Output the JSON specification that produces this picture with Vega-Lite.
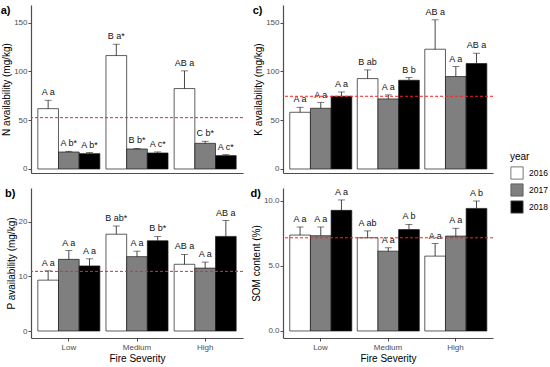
{
  "$schema": "https://vega.github.io/schema/vega-lite/v6.json",
  "padding": {"left": 0, "top": 5, "right": 2, "bottom": 2},
  "background": "white",
  "datasets": {
    "N": [
      {"severity": "Low", "year": "2016", "mean": 61.8, "upper": 70.4, "label": "A a"},
      {"severity": "Low", "year": "2017", "mean": 17.4, "upper": 18.1, "label": "A b*"},
      {"severity": "Low", "year": "2018", "mean": 15.7, "upper": 16.8, "label": "A b*"},
      {"severity": "Medium", "year": "2016", "mean": 116.2, "upper": 127.8, "label": "B a*"},
      {"severity": "Medium", "year": "2017", "mean": 20.5, "upper": 21.0, "label": "B b*"},
      {"severity": "Medium", "year": "2018", "mean": 16.4, "upper": 17.5, "label": "A c*"},
      {"severity": "High", "year": "2016", "mean": 82.4, "upper": 100.5, "label": "AB a"},
      {"severity": "High", "year": "2017", "mean": 26.3, "upper": 28.4, "label": "C b*"},
      {"severity": "High", "year": "2018", "mean": 13.7, "upper": 14.7, "label": "A c*"}
    ],
    "P": [
      {"severity": "Low", "year": "2016", "mean": 9.3, "upper": 11.0, "label": "A a"},
      {"severity": "Low", "year": "2017", "mean": 13.1, "upper": 14.7, "label": "A a"},
      {"severity": "Low", "year": "2018", "mean": 11.9, "upper": 13.2, "label": "A a"},
      {"severity": "Medium", "year": "2016", "mean": 17.7, "upper": 19.2, "label": "B ab*"},
      {"severity": "Medium", "year": "2017", "mean": 13.6, "upper": 14.6, "label": "A a"},
      {"severity": "Medium", "year": "2018", "mean": 16.5, "upper": 17.3, "label": "B b*"},
      {"severity": "High", "year": "2016", "mean": 12.2, "upper": 14.0, "label": "AB a"},
      {"severity": "High", "year": "2017", "mean": 11.5, "upper": 12.6, "label": "A a"},
      {"severity": "High", "year": "2018", "mean": 17.3, "upper": 20.2, "label": "AB a"}
    ],
    "K": [
      {"severity": "Low", "year": "2016", "mean": 58.1, "upper": 63.2, "label": "A a"},
      {"severity": "Low", "year": "2017", "mean": 62.2, "upper": 68.0, "label": "A a"},
      {"severity": "Low", "year": "2018", "mean": 74.5, "upper": 78.9, "label": "A a"},
      {"severity": "Medium", "year": "2016", "mean": 92.6, "upper": 101.5, "label": "B ab"},
      {"severity": "Medium", "year": "2017", "mean": 71.8, "upper": 75.9, "label": "A a"},
      {"severity": "Medium", "year": "2018", "mean": 90.9, "upper": 93.6, "label": "B b"},
      {"severity": "High", "year": "2016", "mean": 122.7, "upper": 152.8, "label": "AB a"},
      {"severity": "High", "year": "2017", "mean": 94.7, "upper": 104.9, "label": "A a"},
      {"severity": "High", "year": "2018", "mean": 108.0, "upper": 118.6, "label": "AB a"}
    ],
    "SOM": [
      {"severity": "Low", "year": "2016", "mean": 7.38, "upper": 8.0, "label": "A a"},
      {"severity": "Low", "year": "2017", "mean": 7.33, "upper": 8.0, "label": "A a"},
      {"severity": "Low", "year": "2018", "mean": 9.28, "upper": 10.08, "label": "A a"},
      {"severity": "Medium", "year": "2016", "mean": 7.17, "upper": 7.7, "label": "A ab"},
      {"severity": "Medium", "year": "2017", "mean": 6.14, "upper": 6.4, "label": "A a"},
      {"severity": "Medium", "year": "2018", "mean": 7.8, "upper": 8.2, "label": "A b"},
      {"severity": "High", "year": "2016", "mean": 5.76, "upper": 6.73, "label": "A a"},
      {"severity": "High", "year": "2017", "mean": 7.3, "upper": 7.9, "label": "A a"},
      {"severity": "High", "year": "2018", "mean": 9.43, "upper": 10.0, "label": "A b"}
    ],
    "refs": [
      {"panel": "a", "ref": 52.6},
      {"panel": "b", "ref": 10.9},
      {"panel": "c", "ref": 74.5},
      {"panel": "d", "ref": 7.17}
    ]
  },
  "columns": 2,
  "spacing": {"row": 14, "column": 6},
  "resolve": {"scale": {"color": "shared", "y": "independent", "x": "independent"}, "legend": {"color": "shared"}},
  "concat": [
    {
      "data": {"name": "N"},
      "width": 212, "height": 168,
      "title": {"text": "a)", "anchor": "start", "frame": "bounds", "offset": -11, "fontSize": 11, "fontWeight": "bold", "dx": -1},
      "layer": [
        {"mark": {"type": "bar", "stroke": "#1a1a1a", "strokeWidth": 0.7},
         "encoding": {
           "x": {"field": "severity", "type": "nominal", "sort": ["Low", "Medium", "High"], "scale": {"paddingInner": 0.09, "paddingOuter": 0.1}, "title": null, "axis": {"labels": false, "ticks": false, "minExtent": 0}},
           "xOffset": {"field": "year", "type": "nominal", "sort": ["2016", "2017", "2018"]},
           "y": {"field": "mean", "type": "quantitative", "scale": {"domain": [-4.1, 168], "nice": false, "zero": false}, "axis": {"values": [0, 50, 100, 150]}, "title": "N availability (mg/kg)"},
           "y2": {"datum": 0},
           "color": {"field": "year", "type": "nominal", "scale": {"domain": ["2016", "2017", "2018"], "range": ["#ffffff", "#7f7f7f", "#000000"]}, "title": "year"}
         }},
        {"mark": {"type": "rule", "color": "#1a1a1a", "strokeWidth": 0.8},
         "encoding": {
           "x": {"field": "severity", "type": "nominal", "sort": ["Low", "Medium", "High"]},
           "xOffset": {"field": "year", "type": "nominal", "sort": ["2016", "2017", "2018"]},
           "y": {"field": "mean", "type": "quantitative", "title": "N availability (mg/kg)"},
           "y2": {"field": "upper"}
         }},
        {"mark": {"type": "tick", "color": "#1a1a1a", "thickness": 0.8, "size": 7},
         "encoding": {
           "x": {"field": "severity", "type": "nominal", "sort": ["Low", "Medium", "High"]},
           "xOffset": {"field": "year", "type": "nominal", "sort": ["2016", "2017", "2018"]},
           "y": {"field": "upper", "type": "quantitative", "title": "N availability (mg/kg)"}
         }},
        {"mark": {"type": "text", "baseline": "alphabetic", "dy": -5, "fontSize": 9, "color": "#111"},
         "encoding": {
           "x": {"field": "severity", "type": "nominal", "sort": ["Low", "Medium", "High"]},
           "xOffset": {"field": "year", "type": "nominal", "sort": ["2016", "2017", "2018"]},
           "y": {"field": "upper", "type": "quantitative", "title": "N availability (mg/kg)"},
           "text": {"field": "label"}
         }},
        {"data": {"name": "refs"}, "transform": [{"filter": "datum.panel == 'a'"}],
         "mark": {"type": "rule", "color": "#ff2020", "strokeDash": [3, 2], "strokeWidth": 1},
         "encoding": {"y": {"field": "ref", "type": "quantitative", "title": "N availability (mg/kg)"}}}
      ]
    },
    {
      "data": {"name": "K"},
      "width": 210, "height": 168,
      "title": {"text": "c)", "anchor": "start", "frame": "bounds", "offset": -11, "fontSize": 11, "fontWeight": "bold", "dx": -1},
      "layer": [
        {"mark": {"type": "bar", "stroke": "#1a1a1a", "strokeWidth": 0.7},
         "encoding": {
           "x": {"field": "severity", "type": "nominal", "sort": ["Low", "Medium", "High"], "scale": {"paddingInner": 0.09, "paddingOuter": 0.1}, "title": null, "axis": {"labels": false, "ticks": false, "minExtent": 0}},
           "xOffset": {"field": "year", "type": "nominal", "sort": ["2016", "2017", "2018"]},
           "y": {"field": "mean", "type": "quantitative", "scale": {"domain": [-4.1, 168], "nice": false, "zero": false}, "axis": {"values": [0, 50, 100, 150]}, "title": "K availability (mg/kg)"},
           "y2": {"datum": 0},
           "color": {"field": "year", "type": "nominal", "scale": {"domain": ["2016", "2017", "2018"], "range": ["#ffffff", "#7f7f7f", "#000000"]}, "title": "year"}
         }},
        {"mark": {"type": "rule", "color": "#1a1a1a", "strokeWidth": 0.8},
         "encoding": {
           "x": {"field": "severity", "type": "nominal", "sort": ["Low", "Medium", "High"]},
           "xOffset": {"field": "year", "type": "nominal", "sort": ["2016", "2017", "2018"]},
           "y": {"field": "mean", "type": "quantitative", "title": "K availability (mg/kg)"},
           "y2": {"field": "upper"}
         }},
        {"mark": {"type": "tick", "color": "#1a1a1a", "thickness": 0.8, "size": 7},
         "encoding": {
           "x": {"field": "severity", "type": "nominal", "sort": ["Low", "Medium", "High"]},
           "xOffset": {"field": "year", "type": "nominal", "sort": ["2016", "2017", "2018"]},
           "y": {"field": "upper", "type": "quantitative", "title": "K availability (mg/kg)"}
         }},
        {"mark": {"type": "text", "baseline": "alphabetic", "dy": -5, "fontSize": 9, "color": "#111"},
         "encoding": {
           "x": {"field": "severity", "type": "nominal", "sort": ["Low", "Medium", "High"]},
           "xOffset": {"field": "year", "type": "nominal", "sort": ["2016", "2017", "2018"]},
           "y": {"field": "upper", "type": "quantitative", "title": "K availability (mg/kg)"},
           "text": {"field": "label"}
         }},
        {"data": {"name": "refs"}, "transform": [{"filter": "datum.panel == 'c'"}],
         "mark": {"type": "rule", "color": "#ff2020", "strokeDash": [3, 2], "strokeWidth": 1},
         "encoding": {"y": {"field": "ref", "type": "quantitative", "title": "K availability (mg/kg)"}}}
      ]
    },
    {
      "data": {"name": "P"},
      "width": 212, "height": 150,
      "title": {"text": "b)", "anchor": "start", "frame": "bounds", "offset": -11, "fontSize": 11, "fontWeight": "bold", "dx": -1},
      "layer": [
        {"mark": {"type": "bar", "stroke": "#1a1a1a", "strokeWidth": 0.7},
         "encoding": {
           "x": {"field": "severity", "type": "nominal", "sort": ["Low", "Medium", "High"], "scale": {"paddingInner": 0.09, "paddingOuter": 0.1}, "title": "Fire Severity"},
           "xOffset": {"field": "year", "type": "nominal", "sort": ["2016", "2017", "2018"]},
           "y": {"field": "mean", "type": "quantitative", "scale": {"domain": [-1.28, 26.15], "nice": false, "zero": false}, "axis": {"values": [0, 5, 10, 15, 20, 25]}, "title": "P availability (mg/kg)"},
           "y2": {"datum": 0},
           "color": {"field": "year", "type": "nominal", "scale": {"domain": ["2016", "2017", "2018"], "range": ["#ffffff", "#7f7f7f", "#000000"]}, "title": "year"}
         }},
        {"mark": {"type": "rule", "color": "#1a1a1a", "strokeWidth": 0.8},
         "encoding": {
           "x": {"field": "severity", "type": "nominal", "sort": ["Low", "Medium", "High"]},
           "xOffset": {"field": "year", "type": "nominal", "sort": ["2016", "2017", "2018"]},
           "y": {"field": "mean", "type": "quantitative", "title": "P availability (mg/kg)"},
           "y2": {"field": "upper"}
         }},
        {"mark": {"type": "tick", "color": "#1a1a1a", "thickness": 0.8, "size": 7},
         "encoding": {
           "x": {"field": "severity", "type": "nominal", "sort": ["Low", "Medium", "High"]},
           "xOffset": {"field": "year", "type": "nominal", "sort": ["2016", "2017", "2018"]},
           "y": {"field": "upper", "type": "quantitative", "title": "P availability (mg/kg)"}
         }},
        {"mark": {"type": "text", "baseline": "alphabetic", "dy": -5, "fontSize": 9, "color": "#111"},
         "encoding": {
           "x": {"field": "severity", "type": "nominal", "sort": ["Low", "Medium", "High"]},
           "xOffset": {"field": "year", "type": "nominal", "sort": ["2016", "2017", "2018"]},
           "y": {"field": "upper", "type": "quantitative", "title": "P availability (mg/kg)"},
           "text": {"field": "label"}
         }},
        {"data": {"name": "refs"}, "transform": [{"filter": "datum.panel == 'b'"}],
         "mark": {"type": "rule", "color": "#ff2020", "strokeDash": [3, 2], "strokeWidth": 1},
         "encoding": {"y": {"field": "ref", "type": "quantitative", "title": "P availability (mg/kg)"}}}
      ]
    },
    {
      "data": {"name": "SOM"},
      "width": 210, "height": 150,
      "title": {"text": "d)", "anchor": "start", "frame": "bounds", "offset": -11, "fontSize": 11, "fontWeight": "bold", "dx": -1},
      "layer": [
        {"mark": {"type": "bar", "stroke": "#1a1a1a", "strokeWidth": 0.7},
         "encoding": {
           "x": {"field": "severity", "type": "nominal", "sort": ["Low", "Medium", "High"], "scale": {"paddingInner": 0.09, "paddingOuter": 0.1}, "title": "Fire Severity"},
           "xOffset": {"field": "year", "type": "nominal", "sort": ["2016", "2017", "2018"]},
           "y": {"field": "mean", "type": "quantitative", "scale": {"domain": [-0.54, 11.0], "nice": false, "zero": false}, "axis": {"values": [0, 2.5, 5, 7.5, 10], "format": ".1f"}, "title": "SOM content (%)"},
           "y2": {"datum": 0},
           "color": {"field": "year", "type": "nominal", "scale": {"domain": ["2016", "2017", "2018"], "range": ["#ffffff", "#7f7f7f", "#000000"]}, "title": "year"}
         }},
        {"mark": {"type": "rule", "color": "#1a1a1a", "strokeWidth": 0.8},
         "encoding": {
           "x": {"field": "severity", "type": "nominal", "sort": ["Low", "Medium", "High"]},
           "xOffset": {"field": "year", "type": "nominal", "sort": ["2016", "2017", "2018"]},
           "y": {"field": "mean", "type": "quantitative", "title": "SOM content (%)"},
           "y2": {"field": "upper"}
         }},
        {"mark": {"type": "tick", "color": "#1a1a1a", "thickness": 0.8, "size": 7},
         "encoding": {
           "x": {"field": "severity", "type": "nominal", "sort": ["Low", "Medium", "High"]},
           "xOffset": {"field": "year", "type": "nominal", "sort": ["2016", "2017", "2018"]},
           "y": {"field": "upper", "type": "quantitative", "title": "SOM content (%)"}
         }},
        {"mark": {"type": "text", "baseline": "alphabetic", "dy": -5, "fontSize": 9, "color": "#111"},
         "encoding": {
           "x": {"field": "severity", "type": "nominal", "sort": ["Low", "Medium", "High"]},
           "xOffset": {"field": "year", "type": "nominal", "sort": ["2016", "2017", "2018"]},
           "y": {"field": "upper", "type": "quantitative", "title": "SOM content (%)"},
           "text": {"field": "label"}
         }},
        {"data": {"name": "refs"}, "transform": [{"filter": "datum.panel == 'd'"}],
         "mark": {"type": "rule", "color": "#ff2020", "strokeDash": [3, 2], "strokeWidth": 1},
         "encoding": {"y": {"field": "ref", "type": "quantitative", "title": "SOM content (%)"}}}
      ]
    }
  ],
  "config": {
    "font": "Liberation Sans",
    "view": {"stroke": null},
    "axis": {"grid": false, "domainColor": "#4d4d4d", "domainWidth": 1.2, "tickColor": "#4d4d4d", "tickSize": 3, "tickWidth": 1, "labelColor": "#4d4d4d", "labelFontSize": 8, "labelPadding": 1, "titleFontSize": 10, "titleFontWeight": "normal", "titleColor": "#000000", "titlePadding": 2},
    "axisX": {"labelAngle": 0, "titlePadding": 2, "labelPadding": 2},
    "legend": {"orient": "none", "legendX": 479, "legendY": 147, "titleFontSize": 10, "titleFontWeight": "normal", "titleColor": "#000000", "labelFontSize": 8.5, "labelColor": "#000000", "symbolType": "square", "symbolSize": 150, "symbolStrokeColor": "#555555", "symbolStrokeWidth": 0.8, "rowPadding": 1, "titlePadding": 4, "labelOffset": 5},
    "title": {"color": "#000000"}
  }
}
